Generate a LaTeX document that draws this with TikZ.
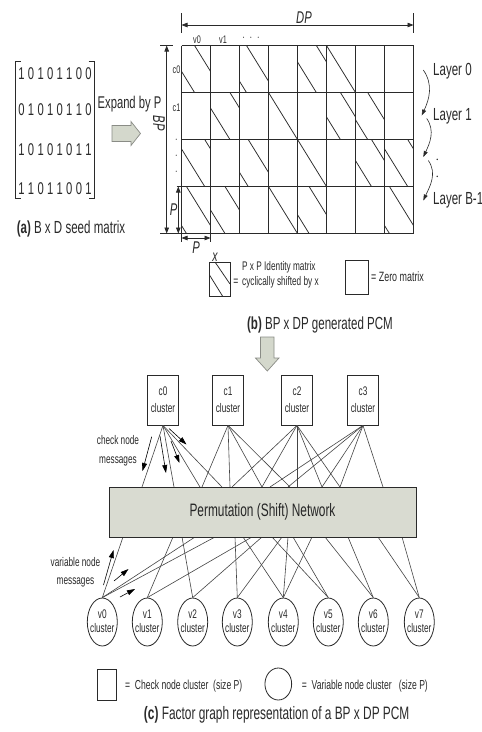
\documentclass[tikz,border=0pt]{standalone}
\usepackage{fontspec}
\setmainfont[FakeStretch=0.66]{Liberation Sans}
\usetikzlibrary{arrows.meta,shapes.geometric}
\definecolor{ink}{HTML}{2A2A2A}
\definecolor{wire}{HTML}{444444}
\definecolor{netfill}{HTML}{D9DBD1}
\definecolor{blockfill}{HTML}{D4D8CC}
\definecolor{blockedge}{HTML}{8A8C86}
\newcommand{\fsz}[2]{\fontsize{#1}{#2}\selectfont}
\begin{document}
\begin{tikzpicture}[x=1pt,y=-1pt,
  lbl/.style={text=ink,inner sep=0pt},
  gridline/.style={draw=ink,line width=1pt},
  diag/.style={draw=ink,line width=0.75pt},
  thin/.style={draw=ink,line width=0.7pt},
  dimarrow/.style={draw=ink,line width=0.7pt,{Triangle[length=6pt,width=4.5pt]}-{Triangle[length=6pt,width=4.5pt]}},
  wireline/.style={draw=wire,line width=0.6pt},
  msg/.style={draw=black,line width=0.6pt,-{Triangle[length=8pt,width=5pt]}},
  layerarrow/.style={draw=ink,line width=0.6pt,-{Triangle[length=6pt,width=4pt]}},
  checknode/.style={draw=ink,line width=0.8pt,fill=white,minimum width=31pt,minimum height=50pt,inner sep=0pt,align=center,text=ink,font=\fsz{12.5}{17}},
  varnode/.style={ellipse,draw=ink,line width=0.8pt,minimum width=30pt,minimum height=48pt,inner sep=0pt},
  block/.style={draw=blockedge,fill=blockfill,line width=0.7pt,line join=miter},
]
\fill[white] (0,0) rectangle (482,732);
\useasboundingbox (0,0) rectangle (482,732);

% ---------- (a) seed matrix ----------
\draw[thin] (20.5,61.7) -- (15,61.7) -- (15,198.3) -- (20.5,198.3);
\draw[thin] (88.5,61.7) -- (94,61.7) -- (94,198.3) -- (88.5,198.3);
\foreach \digits/\yy [count=\i from 0] in {{1,0,1,0,1,1,0,0}/73.3,{0,1,0,1,0,1,1,0}/110,{1,0,1,0,1,0,1,1}/150,{1,1,0,1,1,0,0,1}/188.3} {
  \foreach \d [count=\j from 0] in \digits {
    \node[lbl,font=\fsz{17}{18}] (s-\i-\j) at ({21.5+\j*9.57},\yy) {\d};
  }
}
\node[lbl,font=\fsz{17}{20}] (expand) at (129.5,104) {Expand by P};
\draw[block] (112,125.5) -- (131,125.5) -- (131,121.5) -- (140.5,133.5) -- (131,145.5) -- (131,141.5) -- (112,141.5) -- cycle;
\node[lbl,font=\fsz{17.5}{20}] (capa) at (71,229) {\textbf{(a)} B x D seed matrix};

% ---------- (b) generated PCM ----------
\def\gx{181.5}\def\gy{45.5}\def\cw{29}\def\rh{47}
\foreach \r/\c/\s in {0/0/0.45,0/2/0.24,0/4/0.65,0/5/0,
                      1/1/0.67,1/3/0,1/5/0.48,1/6/0.42,
                      2/0/0.8,2/2/0.3,2/4/0,2/6/0.55,2/7/0.8,
                      3/0/0.17,3/1/0.5,3/3/0,3/4/0.4,3/7/0.17} {
  \pgfmathsetmacro\xa{\gx+\c*\cw}
  \pgfmathsetmacro\ya{\gy+\r*\rh}
  \draw[diag] ({\xa+\s*\cw},\ya) -- ({\xa+\cw},{\ya+(1-\s)*\rh});
  \ifdim \s pt>0pt
    \draw[diag] (\xa,{\ya+(1-\s)*\rh}) -- ({\xa+\s*\cw},{\ya+\rh});
  \fi
}
\foreach \c in {0,...,8}
  \draw[gridline] ({\gx+\c*\cw},\gy) -- ({\gx+\c*\cw},{\gy+4*\rh});
\foreach \r in {0,...,4}
  \draw[gridline] (\gx,{\gy+\r*\rh}) -- ({\gx+8*\cw},{\gy+\r*\rh});
% extension lines of the dimensions
\draw[thin] (176.5,{\gy+3*\rh}) -- (\gx,{\gy+3*\rh});
\draw[thin] (160,{\gy+4*\rh}) -- (\gx,{\gy+4*\rh});
\draw[thin] (160,\gy) -- (173,\gy);
\draw[thin] (\gx,13) -- (\gx,33);
\draw[thin] ({\gx+8*\cw},13) -- ({\gx+8*\cw},33);
\draw[thin] (\gx,{\gy+4*\rh}) -- (\gx,242);
\draw[thin] ({\gx+\cw},{\gy+4*\rh}) -- ({\gx+\cw},242);

% dimension arrows
\coordinate (dpL) at (\gx,25);
\coordinate (dpR) at ({\gx+8*\cw},25);
\draw[dimarrow] (dpL) -- (dpR);
\node[lbl,font=\fsz{17}{20}\itshape] (dp) at (304,17.5) {DP};
\coordinate (bpT) at (166.7,\gy);
\coordinate (bpB) at (166.7,{\gy+4*\rh});
\draw[dimarrow] (bpT) -- (bpB);
\node[lbl,font=\fsz{17}{20}\itshape,rotate=-90] (bp) at (159,123) {BP};
\coordinate (pvT) at (178.3,{\gy+3*\rh});
\coordinate (pvB) at (178.3,{\gy+4*\rh});
\draw[dimarrow] (pvT) -- (pvB);
\node[lbl,font=\fsz{17}{20}\itshape,anchor=east] (pv) at (177.5,210) {P};
\coordinate (phL) at (\gx,238);
\coordinate (phR) at ({\gx+\cw},238);
\draw[dimarrow] (phL) -- (phR);
\node[lbl,font=\fsz{17}{20}\itshape] (ph) at (196,248) {P};

% row and column tags
\node[lbl,font=\fsz{11}{12}] (tv0) at (197,39.5) {v0};
\node[lbl,font=\fsz{11}{12}] (tv1) at (223,39.5) {v1};
\node[lbl,font=\fsz{11}{12}] (tvd) at (251,38) {$\cdot\,\cdot\,\cdot$};
\node[lbl,font=\fsz{11}{12}] (tc0) at (176.5,70) {c0};
\node[lbl,font=\fsz{11}{12}] (tc1) at (176.5,108) {c1};
\foreach \yy [count=\k] in {140,156,172}
  \node[lbl,font=\fsz{11}{12}] (tcd\k) at (176.5,\yy) {$\cdot$};

% layer labels
\node[lbl,font=\fsz{17.5}{20},anchor=west] (L0) at (433,71.7) {Layer 0};
\node[lbl,font=\fsz{17.5}{20},anchor=west] (L1) at (433,116.7) {Layer 1};
\node[lbl,font=\fsz{14}{16}] (Ld1) at (437.3,160) {$\cdot$};
\node[lbl,font=\fsz{14}{16}] (Ld2) at (437.3,177) {$\cdot$};
\node[lbl,font=\fsz{17.5}{20},anchor=west] (LB) at (433,200) {Layer B-1};
\coordinate (la0) at (423.3,70);   \coordinate (la1) at (421.7,115.5);
\coordinate (lb0) at (426.7,118.5); \coordinate (lb1) at (423.3,157);
\coordinate (lc0) at (428.3,160.5); \coordinate (lc1) at (423.3,200.5);
\draw[layerarrow] (la0) to[out=-55,in=65] (la1);
\draw[layerarrow] (lb0) to[out=-55,in=65] (lb1);
\draw[layerarrow] (lc0) to[out=-55,in=65] (lc1);

% legend of the PCM
\draw[thin] (209.5,262) rectangle (230,296);
\draw[diag] (215,262) -- (230,284);
\draw[diag] (209.5,275) -- (222.5,296);
\node[lbl,font=\fsz{16}{18}\itshape] (shx) at (215,257) {x};
\node[lbl,font=\fsz{13}{14}] (eq1) at (236,282) {=};
\node[lbl,font=\fsz{12.5}{14},anchor=west] (idt1) at (242,267) {P x P Identity matrix};
\node[lbl,font=\fsz{12.5}{14},anchor=west] (idt2) at (242,282) {cyclically shifted by x};
\draw[thin] (345.7,260) rectangle (368.3,294);
\node[lbl,font=\fsz{13.5}{14},anchor=west] (zero) at (371,277) {= Zero matrix};
\node[lbl,font=\fsz{17.5}{20}] (capb) at (320,325) {\textbf{(b)} BP x DP generated PCM};
\draw[block] (260.5,337) -- (274,337) -- (274,358) -- (279,358) -- (267.3,371) -- (255.5,358) -- (260.5,358) -- cycle;

% ---------- (c) factor graph ----------
\node[checknode] (c0) at (163,400) {c0\\cluster};
\node[checknode] (c1) at (228,400) {c1\\cluster};
\node[checknode] (c2) at (297,400) {c2\\cluster};
\node[checknode] (c3) at (363,400) {c3\\cluster};

\foreach \src/\xx in {c0/142,c0/174,c0/200,c0/222,
                      c1/202,c1/230,c1/262,c1/290,
                      c2/232,c2/262,c2/297,c2/322,c2/340,
                      c3/270,c3/288,c3/322,c3/340,c3/383} {
  \coordinate (t-\src-\xx) at (\xx,487);
  \draw[wireline] (\src.south) -- (t-\src-\xx);
}

\foreach \k/\xx in {0/102.3,1/147.3,2/192.7,3/237.3,4/283.3,5/328.3,6/373.3,7/419.3} {
  \node[varnode] (v\k) at (\xx,622) {};
  \node[lbl,align=center,font=\fsz{12.5}{14}] (vt\k) at (\xx,621) {v\k\\cluster};
}
\foreach \dst/\xx in {v0/123,v0/195,v0/215,
                      v1/173,v1/252,
                      v2/182,v2/262,
                      v3/235,v3/282,
                      v4/243,v4/288,v4/312,
                      v5/272,v5/293,
                      v6/325,v6/348,
                      v7/378,v7/402} {
  \coordinate (b-\dst-\xx) at (\xx,537);
  \draw[wireline] (b-\dst-\xx) -- (\dst.north);
}

\node[draw=ink,line width=0.9pt,fill=netfill,minimum width=307pt,minimum height=50pt,inner sep=0pt,
      text=black!85,font=\fsz{18}{20}] (net) at (262.5,512) {Permutation (Shift) Network};

% message arrows
\node[lbl,align=center,font=\fsz{12.5}{18.5}] (cmsg) at (118,451) {check node\\messages};
\coordinate (m1a) at (151.7,436.7); \coordinate (m1b) at (142.5,471);
\coordinate (m2a) at (160,436);     \coordinate (m2b) at (166,473);
\coordinate (m3a) at (171,441);     \coordinate (m3b) at (179.5,463);
\coordinate (m4a) at (169,428.5);   \coordinate (m4b) at (186.5,444.5);
\draw[msg] (m1a) -- (m1b);
\draw[msg] (m2a) -- (m2b);
\draw[msg] (m3a) -- (m3b);
\draw[msg] (m4a) -- (m4b);

\node[lbl,align=center,font=\fsz{12.5}{18}] (vmsg) at (75.5,572) {variable node\\messages};
\coordinate (a1a) at (103.5,585);   \coordinate (a1b) at (113.5,550);
\coordinate (a2a) at (114,581);     \coordinate (a2b) at (128.5,569);
\coordinate (a3a) at (120,597);     \coordinate (a3b) at (135,589);
\draw[msg] (a1a) -- (a1b);
\draw[msg] (a2a) -- (a2b);
\draw[msg] (a3a) -- (a3b);

% legend of the factor graph
\node[draw=ink,line width=0.8pt,minimum width=19.4pt,minimum height=30.7pt,inner sep=0pt] (lgc) at (107,684.6) {};
\node[lbl,font=\fsz{13}{14},anchor=west] (lgct) at (125,686) {= \ Check node cluster \ (size P)};
\node[ellipse,draw=ink,line width=0.8pt,minimum width=26.7pt,minimum height=32pt,inner sep=0pt] (lgv) at (278.3,684) {};
\node[lbl,font=\fsz{13}{14},anchor=west] (lgvt) at (301.7,686) {= \ Variable node cluster \ \ (size P)};
\node[lbl,font=\fsz{18}{20}] (capc) at (276.7,715) {\textbf{(c)} Factor graph representation of a BP x DP PCM};
\end{tikzpicture}
\end{document}
